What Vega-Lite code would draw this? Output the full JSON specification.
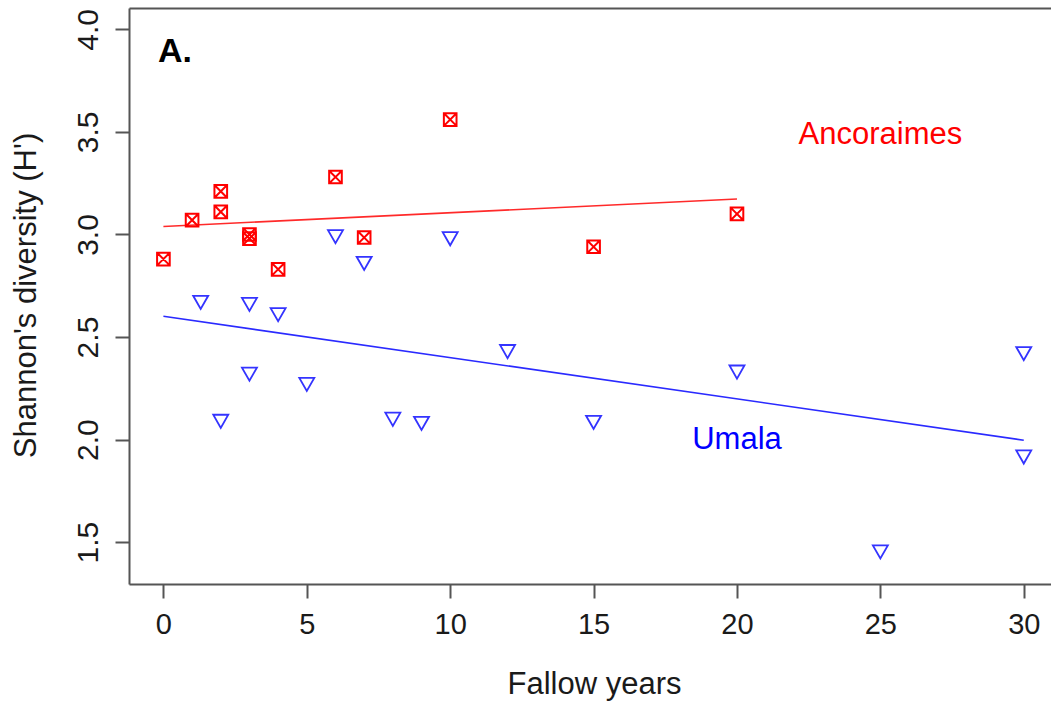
{
  "$schema": "https://vega.github.io/schema/vega-lite/v6.json",
  "autosize": {"type": "none"},
  "padding": {"left": 129, "top": 8, "right": 0, "bottom": 123},
  "width": 922,
  "height": 576,
  "background": "white",
  "config": {"view": {"stroke": null}, "font": "Liberation Sans"},
  "datasets": {
    "points": [
      {"site": "Ancoraimes", "x": 0, "y": 2.88},
      {"site": "Ancoraimes", "x": 1, "y": 3.07},
      {"site": "Ancoraimes", "x": 2, "y": 3.21},
      {"site": "Ancoraimes", "x": 2, "y": 3.11},
      {"site": "Ancoraimes", "x": 3, "y": 3.0},
      {"site": "Ancoraimes", "x": 3, "y": 2.98},
      {"site": "Ancoraimes", "x": 4, "y": 2.83},
      {"site": "Ancoraimes", "x": 6, "y": 3.28},
      {"site": "Ancoraimes", "x": 7, "y": 2.985},
      {"site": "Ancoraimes", "x": 10, "y": 3.56},
      {"site": "Ancoraimes", "x": 15, "y": 2.94},
      {"site": "Ancoraimes", "x": 20, "y": 3.10},
      {"site": "Umala", "x": 1.3, "y": 2.67},
      {"site": "Umala", "x": 2, "y": 2.09},
      {"site": "Umala", "x": 3, "y": 2.66},
      {"site": "Umala", "x": 3, "y": 2.32},
      {"site": "Umala", "x": 4, "y": 2.61},
      {"site": "Umala", "x": 5, "y": 2.27},
      {"site": "Umala", "x": 6, "y": 2.99},
      {"site": "Umala", "x": 7, "y": 2.86},
      {"site": "Umala", "x": 8, "y": 2.10},
      {"site": "Umala", "x": 9, "y": 2.08},
      {"site": "Umala", "x": 10, "y": 2.98},
      {"site": "Umala", "x": 12, "y": 2.43},
      {"site": "Umala", "x": 15, "y": 2.085},
      {"site": "Umala", "x": 20, "y": 2.33},
      {"site": "Umala", "x": 25, "y": 1.453},
      {"site": "Umala", "x": 30, "y": 2.42},
      {"site": "Umala", "x": 30, "y": 1.916}
    ],
    "fits": [
      {"site": "Ancoraimes", "x": 0, "y": 3.039},
      {"site": "Ancoraimes", "x": 20, "y": 3.173},
      {"site": "Umala", "x": 0, "y": 2.601},
      {"site": "Umala", "x": 30, "y": 1.997}
    ],
    "labels": [
      {"label": "A.", "x": -0.19, "y": 3.842},
      {"label": "Ancoraimes", "x": 25, "y": 3.442},
      {"label": "Umala", "x": 20, "y": 1.952}
    ]
  },
  "layer": [
    {
      "data": {"name": "fits"},
      "mark": {"type": "line", "strokeWidth": 1.6},
      "encoding": {
        "x": {
          "field": "x", "type": "quantitative",
          "scale": {"domain": [-1.2, 30.95], "nice": false, "zero": false},
          "axis": {
            "orient": "bottom",
            "values": [0, 5, 10, 15, 20, 25, 30],
            "grid": false,
            "domainColor": "#555555", "domainWidth": 2,
            "tickColor": "#555555", "tickWidth": 2, "tickSize": 14,
            "labelFontSize": 29, "labelColor": "#1a1a1a", "labelPadding": 12,
            "labelFont": "Liberation Sans",
            "title": "Fallow years",
            "titleFontSize": 31, "titleFontWeight": "normal", "titleColor": "#1a1a1a",
            "titleFont": "Liberation Sans",
            "titleX": 465, "titleY": 109, "titleBaseline": "alphabetic", "titleAlign": "center"
          }
        },
        "y": {
          "field": "y", "type": "quantitative",
          "scale": {"domain": [1.296, 4.104], "nice": false, "zero": false},
          "axis": {
            "values": [1.5, 2.0, 2.5, 3.0, 3.5, 4.0],
            "format": ".1f",
            "grid": false,
            "domainColor": "#555555", "domainWidth": 2,
            "tickColor": "#555555", "tickWidth": 2, "tickSize": 14,
            "labelFontSize": 30, "labelColor": "#1a1a1a", "labelPadding": 18,
            "labelFont": "Liberation Sans",
            "labelAngle": -90, "labelAlign": "center", "labelBaseline": "alphabetic",
            "title": "Shannon's diversity (H')",
            "titleFontSize": 31, "titleFontWeight": "normal", "titleColor": "#1a1a1a",
            "titleFont": "Liberation Sans",
            "titleAngle": -90,
            "titleX": -94, "titleY": 287, "titleBaseline": "alphabetic", "titleAlign": "center"
          }
        },
        "color": {
          "field": "site", "type": "nominal",
          "scale": {"domain": ["Ancoraimes", "Umala"], "range": ["#ff2a2a", "#2a2aff"]},
          "legend": null
        }
      }
    },
    {
      "data": {"name": "points"},
      "transform": [{"filter": "datum.site === 'Ancoraimes'"}],
      "mark": {
        "type": "point",
        "shape": "M-1,-1H1V1H-1ZM-1,-1L1,1M-1,1L1,-1",
        "filled": false,
        "stroke": "#ff0000",
        "strokeWidth": 2,
        "size": 160,
        "opacity": 1
      },
      "encoding": {
        "x": {
          "field": "x", "type": "quantitative",
          "axis": {"orient": "top", "labels": false, "ticks": false, "title": null, "grid": false,
                   "domainColor": "#555555", "domainWidth": 2}
        },
        "y": {"field": "y", "type": "quantitative", "axis": null}
      }
    },
    {
      "data": {"name": "points"},
      "transform": [{"filter": "datum.site === 'Umala'"}],
      "mark": {
        "type": "point",
        "shape": "M-1,-0.85H1L0,0.9Z",
        "filled": false,
        "stroke": "#3434ff",
        "strokeWidth": 1.8,
        "size": 225,
        "opacity": 1
      },
      "encoding": {
        "x": {"field": "x", "type": "quantitative", "axis": null},
        "y": {"field": "y", "type": "quantitative", "axis": null}
      }
    },
    {
      "data": {"name": "labels"},
      "transform": [{"filter": "datum.label === 'A.'"}],
      "mark": {"type": "text", "fontSize": 34, "fontWeight": "bold", "align": "left", "baseline": "alphabetic", "color": "#000000", "font": "Liberation Sans"},
      "encoding": {
        "x": {"field": "x", "type": "quantitative", "axis": null},
        "y": {"field": "y", "type": "quantitative", "axis": null},
        "text": {"field": "label"}
      }
    },
    {
      "data": {"name": "labels"},
      "transform": [{"filter": "datum.label === 'Ancoraimes'"}],
      "mark": {"type": "text", "fontSize": 31, "align": "center", "baseline": "alphabetic", "color": "#ff0000", "font": "Liberation Sans"},
      "encoding": {
        "x": {"field": "x", "type": "quantitative", "axis": null},
        "y": {"field": "y", "type": "quantitative", "axis": null},
        "text": {"field": "label"}
      }
    },
    {
      "data": {"name": "labels"},
      "transform": [{"filter": "datum.label === 'Umala'"}],
      "mark": {"type": "text", "fontSize": 31, "align": "center", "baseline": "alphabetic", "color": "#0000ff", "font": "Liberation Sans"},
      "encoding": {
        "x": {"field": "x", "type": "quantitative", "axis": null},
        "y": {"field": "y", "type": "quantitative", "axis": null},
        "text": {"field": "label"}
      }
    }
  ],
  "resolve": {"axis": {"x": "independent", "y": "independent"}}
}
